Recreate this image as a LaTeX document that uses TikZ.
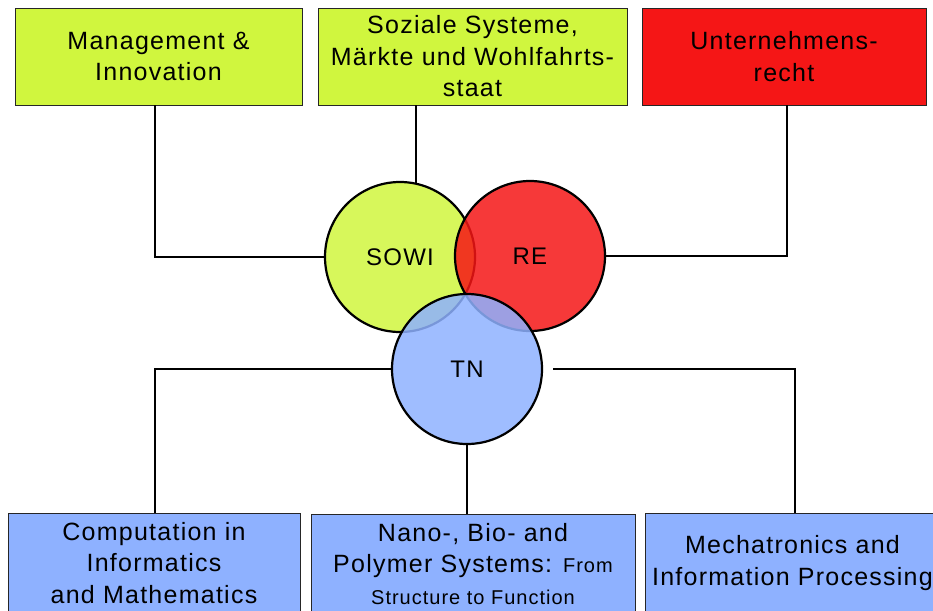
\documentclass[tikz,border=0pt]{standalone}
\usepackage{fontspec}
\setmainfont{Liberation Sans}[LetterSpace=5]
\definecolor{limec}{RGB}{208,246,62}
\definecolor{redc}{RGB}{245,22,22}
\definecolor{bluec}{RGB}{142,177,255}
\begin{document}
\begin{tikzpicture}[x=1pt,y=1pt,
  box/.style={draw=black!85, line width=0.8pt, inner sep=0pt, align=center,
    font=\fontsize{25}{31.5}\selectfont},
  topbox/.style={box, minimum width=#1, minimum height=97},
  botbox/.style={box, minimum width=#1, minimum height=100, fill=bluec},
  circ/.style={circle, draw=black, line width=2.2pt, minimum size=150, inner sep=0pt,
    fill opacity=0.85, text opacity=1, draw opacity=1,
    font=\fontsize{24}{28}\selectfont},
  conn/.style={line width=2pt, black}]
\useasboundingbox (0,0) rectangle (933,-610);
% top boxes
\node[topbox=287, fill=limec] (mi) at (158.5,-56.5) {Management \&\\Innovation};
\node[topbox=309, fill=limec] (ss) at (472.5,-56.5) {Soziale Systeme,\\Märkte und Wohlfahrts-\\staat};
\node[topbox=284, fill=redc] (un) at (784,-56.5) {Unternehmens-\\recht};
% bottom boxes
\node[botbox=292] (ci) at (154,-563) {Computation in\\Informatics\\and Mathematics};
\node[botbox=324] (nb) at (473,-564) {Nano-, Bio- and\\Polymer Systems: {\fontsize{20}{31.5}\selectfont From}\\{\fontsize{20}{31.5}\selectfont Structure to Function}};
\node[botbox=295] (mc) at (792.5,-563) {Mechatronics and\\Information Processing};
% circles
\node[circ, fill=limec] (sowi) at (400,-257) {SOWI};
\node[circ, fill=redc] (re) at (530,-256) {RE};
\node[circ, fill=bluec] (tn) at (467,-369) {TN};
% connectors
\draw[conn] ([xshift=-3.5]mi.south) |- (sowi.west);
\draw[conn] (sowi.78.5) -- (sowi.78.5 |- ss.south);
\draw[conn] (re.east) -| ([xshift=3]un.south);
\draw[conn] (tn.west) -| ([xshift=1]ci.north);
\draw[conn] (tn.south) -- (tn.south |- nb.north);
\draw[conn] ([xshift=10]tn.east) -| ([xshift=2.5]mc.north);
\end{tikzpicture}
\end{document}
